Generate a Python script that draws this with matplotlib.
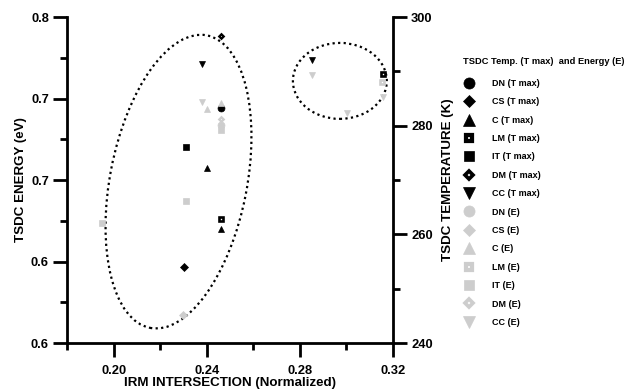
import matplotlib
matplotlib.use('agg')
import matplotlib.pyplot as plt
from matplotlib.patches import Ellipse
from matplotlib.lines import Line2D
from matplotlib.ticker import FixedLocator

plt.rcParams['font.family'] = ['Liberation Sans', 'DejaVu Sans']
plt.rcParams['font.weight'] = 'bold'

# IRM intersection (x) vs TSDC peak temperature (right axis, K)
tmax_data = {
    'DN': ([0.2461], [283.3]),
    'CS': ([0.2302], [254.0]),
    'C':  ([0.2401, 0.2461], [272.2, 261.0]),
    'LM': ([0.2461, 0.3157], [262.8, 289.5]),
    'IT': ([0.2311], [276.1]),
    'DM': ([0.2461], [296.5]),
    'CC': ([0.2380, 0.2852], [291.4, 292.1]),
}
# IRM intersection (x) vs TSDC energy (left axis, eV)
energy_data = {
    'DN': ([0.2461], [0.7340]),
    'CS': ([0.2298], [0.6172]),
    'C':  ([0.2401, 0.2461], [0.7436, 0.7472]),
    'LM': ([0.3153], [0.7601]),
    'IT': ([0.2461, 0.2311, 0.1950], [0.7307, 0.6871, 0.6736]),
    'DM': ([0.2461], [0.7374]),
    'CC': ([0.2380, 0.2852, 0.3157, 0.3002], [0.7479, 0.7644, 0.7509, 0.7411]),
}
names = ['DN', 'CS', 'C', 'LM', 'IT', 'DM', 'CC']

left_ticks = [0.6, 0.65, 0.7, 0.75, 0.8]
left_labels = ['0.6', '0.6', '0.7', '0.7', '0.8']
right_ticks = [240, 260, 280, 300]
x_ticks = [0.20, 0.24, 0.28, 0.32]

BLACK = 'black'
GRAY = '#cdcdcd'

def mstyle(name, color, size):
    st = dict(linestyle='none', color=color, mec=color, mfc=color, mew=0.5)
    if name == 'DN':
        st.update(marker='o', markersize=size)
    elif name == 'CS':
        st.update(marker='D', markersize=size * 0.75)
    elif name == 'C':
        st.update(marker='^', markersize=size)
    elif name == 'LM':
        st.update(marker='s', markersize=size * 0.55, mfc='white', mew=size * 0.38)
    elif name == 'IT':
        st.update(marker='s', markersize=size * 0.95)
    elif name == 'DM':
        st.update(marker='D', markersize=size * 0.45, mfc='white', mew=size * 0.33)
    elif name == 'CC':
        st.update(marker='v', markersize=size)
    return st

fig = plt.figure(figsize=(6.31, 3.92), dpi=100)
ax = fig.add_axes([0.1062, 0.125, 0.5166, 0.8316])
ax2 = ax.twinx()
ax.set_zorder(ax2.get_zorder() + 1)
ax.patch.set_visible(False)

for n in names:
    xs, ys = tmax_data[n]
    ax2.plot(xs, ys, **mstyle(n, BLACK, 5))
    xs, ys = energy_data[n]
    ax.plot(xs, ys, **mstyle(n, GRAY, 5))

# dotted group outlines
ax.add_patch(Ellipse((0.342, 0.495), 0.42, 0.914, angle=-11, transform=ax.transAxes,
                     fill=False, ls=(0, (1, 1.5)), lw=1.6, ec='black'))
ax.add_patch(Ellipse((0.837, 0.804), 0.288, 0.233, angle=0, transform=ax.transAxes,
                     fill=False, ls=(0, (1, 1.5)), lw=1.6, ec='black'))

ax.set_xlim(0.18, 0.32)
ax.set_ylim(0.6, 0.8)
ax2.set_ylim(240, 300)

ax.set_xticks(x_ticks)
ax.set_xticklabels(['%.2f' % v for v in x_ticks])
ax.xaxis.set_minor_locator(FixedLocator([0.18, 0.22, 0.26, 0.30]))
ax.set_yticks(left_ticks)
ax.set_yticklabels(left_labels)
ax.yaxis.set_minor_locator(FixedLocator([0.625, 0.675, 0.725, 0.775]))
ax2.set_yticks(right_ticks)
ax2.yaxis.set_minor_locator(FixedLocator([250, 270, 290]))

for a in (ax, ax2):
    for s in a.spines.values():
        s.set_linewidth(2)
    a.spines['top'].set_visible(False)
    a.tick_params(which='major', length=10, width=2, labelsize=9.3, pad=3)
    a.tick_params(which='minor', length=5, width=2)
ax.tick_params(axis='x', pad=6)
ax.spines['right'].set_visible(False)
ax2.spines['left'].set_visible(False)
ax2.spines['bottom'].set_visible(False)
ax.set_xlabel('IRM INTERSECTION (Normalized)', fontsize=9.6, fontweight='bold', labelpad=0)
ax.set_ylabel('TSDC ENERGY (eV)', fontsize=9.6, fontweight='bold', labelpad=3)
ax2.set_ylabel('TSDC TEMPERATURE (K)', fontsize=9.6, fontweight='bold', labelpad=7)

handles = [Line2D([], [], **mstyle(n, BLACK, 8)) for n in names] + \
          [Line2D([], [], **mstyle(n, GRAY, 8)) for n in names]
labels = ['%s (T max)' % n for n in names] + ['%s (E)' % n for n in names]
leg = fig.legend(handles, labels, loc='upper left', bbox_to_anchor=(0.727, 0.865),
                 frameon=False, fontsize=6.5, title='TSDC Temp. (T max)  and Energy (E)',
                 title_fontsize=6.7, labelspacing=1.04, handlelength=1.3,
                 handletextpad=1.9, borderpad=0)
leg._legend_box.align = 'left'
leg._legend_box.sep = 9
leg.get_title().set_fontweight('bold')

fig.savefig('out.png', dpi=100)
